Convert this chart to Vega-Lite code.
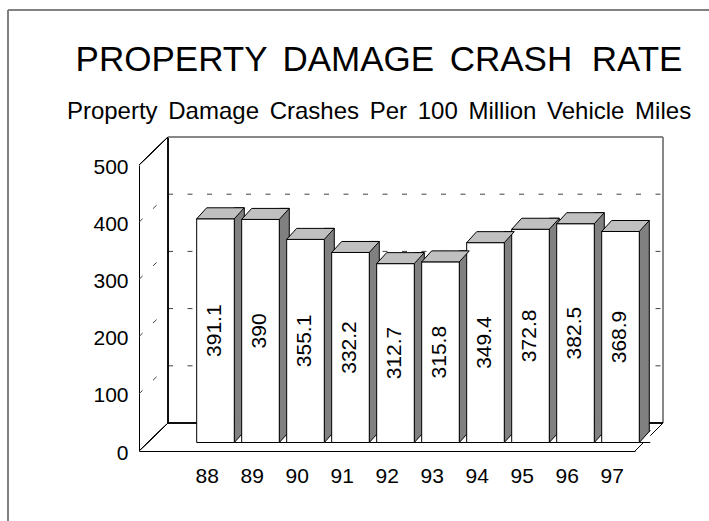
{
  "$schema": "https://vega.github.io/schema/vega-lite/v6.json",
  "width": 496,
  "height": 286,
  "autosize": "none",
  "padding": {"left": 139, "top": 165, "right": 74, "bottom": 70},
  "background": "white",
  "title": {
    "text": "PROPERTY \u2006DAMAGE \u2006CRASH \u00a0RATE",
    "subtitle": "Property \u2006Damage \u2006Crashes \u2006Per \u2006100 \u2006Million \u2006Vehicle \u2006Miles",
    "font": "Liberation Sans",
    "subtitleFont": "Liberation Sans",
    "fontSize": 35,
    "subtitleFontSize": 24,
    "fontWeight": "normal",
    "subtitleFontWeight": "normal",
    "color": "black",
    "subtitleColor": "black",
    "anchor": "middle",
    "frame": "group",
    "offset": -115,
    "subtitlePadding": 22,
    "dx": -8
  },
  "datasets": {
    "rates": [
      {"year": 88, "value": 391.1},
      {"year": 89, "value": 390},
      {"year": 90, "value": 355.1},
      {"year": 91, "value": 332.2},
      {"year": 92, "value": 312.7},
      {"year": 93, "value": 315.8},
      {"year": 94, "value": 349.4},
      {"year": 95, "value": 372.8},
      {"year": 96, "value": 382.5},
      {"year": 97, "value": 368.9}
    ],
    "grid": [{"v": 100}, {"v": 200}, {"v": 300}, {"v": 400}]
  },
  "layer": [
    {
      "layer": [
        {
          "data": {"name": "grid"},
          "mark": {"type": "rule", "color": "#404040", "strokeWidth": 1, "strokeDash": [5, 14.5], "xOffset": 29, "x2Offset": 28, "yOffset": -28},
          "encoding": {
            "x": {"datum": 86.496, "type": "quantitative", "title": null, "scale": {"domain": [86.496, 97.518], "nice": false, "zero": false, "padding": 0}},
            "x2": {"datum": 97.518},
            "y": {"field": "v", "type": "quantitative", "title": null, "scale": {"domain": [0, 500], "nice": false, "zero": false, "padding": 0}}
          }
        },
        {
          "data": {"name": "grid"},
          "mark": {"type": "rule", "color": "#404040", "strokeWidth": 1, "strokeDash": [5, 14.5], "x2Offset": 29, "y2Offset": -28},
          "encoding": {
            "x": {"datum": 86.496, "type": "quantitative", "title": null, "scale": {"domain": [86.496, 97.518], "nice": false, "zero": false, "padding": 0}},
            "x2": {"datum": 86.496},
            "y": {"field": "v", "type": "quantitative", "title": null, "scale": {"domain": [0, 500], "nice": false, "zero": false, "padding": 0}},
            "y2": {"field": "v"}
          }
        },
        {
          "data": {"name": "grid"},
          "mark": {"type": "rule", "color": "black", "strokeWidth": 1, "xOffset": 29, "yOffset": -28, "y2Offset": -28},
          "encoding": {
            "x": {"datum": 86.496, "type": "quantitative", "title": null, "scale": {"domain": [86.496, 97.518], "nice": false, "zero": false, "padding": 0}},
            "y": {"datum": 0, "type": "quantitative", "title": null, "scale": {"domain": [0, 500], "nice": false, "zero": false, "padding": 0}},
            "y2": {"datum": 500}
          }
        },
        {
          "data": {"name": "grid"},
          "mark": {"type": "rule", "color": "#808080", "strokeWidth": 1, "xOffset": 28, "yOffset": -28, "y2Offset": -28},
          "encoding": {
            "x": {"datum": 97.518, "type": "quantitative", "title": null, "scale": {"domain": [86.496, 97.518], "nice": false, "zero": false, "padding": 0}},
            "y": {"datum": 0, "type": "quantitative", "title": null, "scale": {"domain": [0, 500], "nice": false, "zero": false, "padding": 0}},
            "y2": {"datum": 500}
          }
        },
        {
          "data": {"name": "grid"},
          "mark": {"type": "rule", "color": "#808080", "strokeWidth": 1, "xOffset": 29, "x2Offset": 28, "yOffset": -28},
          "encoding": {
            "x": {"datum": 86.496, "type": "quantitative", "title": null, "scale": {"domain": [86.496, 97.518], "nice": false, "zero": false, "padding": 0}},
            "x2": {"datum": 97.518},
            "y": {"datum": 500, "type": "quantitative", "title": null, "scale": {"domain": [0, 500], "nice": false, "zero": false, "padding": 0}}
          }
        },
        {
          "data": {"name": "grid"},
          "mark": {"type": "rule", "color": "black", "strokeWidth": 1, "xOffset": 29, "x2Offset": 28, "yOffset": -28},
          "encoding": {
            "x": {"datum": 86.496, "type": "quantitative", "title": null, "scale": {"domain": [86.496, 97.518], "nice": false, "zero": false, "padding": 0}},
            "x2": {"datum": 97.518},
            "y": {"datum": 0, "type": "quantitative", "title": null, "scale": {"domain": [0, 500], "nice": false, "zero": false, "padding": 0}}
          }
        },
        {
          "data": {"name": "grid"},
          "mark": {"type": "rule", "color": "black", "strokeWidth": 1, "x2Offset": 29, "y2Offset": -28},
          "encoding": {
            "x": {"datum": 86.496, "type": "quantitative", "title": null, "scale": {"domain": [86.496, 97.518], "nice": false, "zero": false, "padding": 0}},
            "x2": {"datum": 86.496},
            "y": {"datum": 0, "type": "quantitative", "title": null, "scale": {"domain": [0, 500], "nice": false, "zero": false, "padding": 0}},
            "y2": {"datum": 0}
          }
        },
        {
          "data": {"name": "grid"},
          "mark": {"type": "rule", "color": "black", "strokeWidth": 1, "x2Offset": 29, "y2Offset": -28},
          "encoding": {
            "x": {"datum": 86.496, "type": "quantitative", "title": null, "scale": {"domain": [86.496, 97.518], "nice": false, "zero": false, "padding": 0}},
            "x2": {"datum": 86.496},
            "y": {"datum": 500, "type": "quantitative", "title": null, "scale": {"domain": [0, 500], "nice": false, "zero": false, "padding": 0}},
            "y2": {"datum": 500}
          }
        },
        {
          "data": {"name": "grid"},
          "mark": {"type": "rule", "color": "black", "strokeWidth": 1, "x2Offset": 28, "y2Offset": -28},
          "encoding": {
            "x": {"datum": 97.518, "type": "quantitative", "title": null, "scale": {"domain": [86.496, 97.518], "nice": false, "zero": false, "padding": 0}},
            "x2": {"datum": 97.518},
            "y": {"datum": 0, "type": "quantitative", "title": null, "scale": {"domain": [0, 500], "nice": false, "zero": false, "padding": 0}},
            "y2": {"datum": 0}
          }
        },
        {
          "data": {"name": "grid"},
          "mark": {"type": "rule", "color": "#808080", "strokeWidth": 1.5},
          "encoding": {
            "x": {"datum": 83.585, "type": "quantitative", "title": null, "scale": {"domain": [86.496, 97.518], "nice": false, "zero": false, "padding": 0}},
            "y": {"datum": -140, "type": "quantitative", "title": null, "scale": {"domain": [0, 500], "nice": false, "zero": false, "padding": 0}},
            "y2": {"datum": 771}
          }
        },
        {
          "data": {"name": "grid"},
          "mark": {"type": "rule", "color": "#808080", "strokeWidth": 1.5},
          "encoding": {
            "x": {"datum": 83.585, "type": "quantitative", "title": null, "scale": {"domain": [86.496, 97.518], "nice": false, "zero": false, "padding": 0}},
            "x2": {"datum": 99.5},
            "y": {"datum": 771, "type": "quantitative", "title": null, "scale": {"domain": [0, 500], "nice": false, "zero": false, "padding": 0}}
          }
        },
        {
          "data": {"name": "rates"},
          "mark": {"type": "bar", "orient": "vertical", "width": 10, "xOffset": 32.6, "yOffset": -19.5, "y2Offset": -8.5, "fill": "#808080", "stroke": "black", "strokeWidth": 1},
          "encoding": {
            "x": {"field": "year", "type": "quantitative", "title": null, "scale": {"domain": [86.496, 97.518], "nice": false, "zero": false, "padding": 0}},
            "y": {"field": "value", "type": "quantitative", "title": null, "scale": {"domain": [0, 500], "nice": false, "zero": false, "padding": 0}},
            "y2": {"datum": 0}
          }
        },
        {
          "data": {"name": "rates"},
          "mark": {"type": "point", "shape": "M 0.9091 1 L -0.9091 1 L 0.9091 -1", "size": 146.41, "filled": true, "fill": "white", "stroke": "black", "strokeWidth": 1, "opacity": 1, "xOffset": 33.1, "yOffset": -14.55},
          "encoding": {
            "x": {"field": "year", "type": "quantitative", "title": null, "scale": {"domain": [86.496, 97.518], "nice": false, "zero": false, "padding": 0}},
            "y": {"datum": 0, "type": "quantitative", "title": null, "scale": {"domain": [0, 500], "nice": false, "zero": false, "padding": 0}}
          }
        },
        {
          "data": {"name": "rates"},
          "mark": {"type": "bar", "orient": "vertical", "width": 37.6, "xOffset": 8.8, "yOffset": -8.5, "y2Offset": -8.5, "fill": "white", "stroke": "black", "strokeWidth": 1},
          "encoding": {
            "x": {"field": "year", "type": "quantitative", "title": null, "scale": {"domain": [86.496, 97.518], "nice": false, "zero": false, "padding": 0},
              "axis": {"values": [88, 89, 90, 91, 92, 93, 94, 95, 96, 97], "format": "d", "title": null, "labelPadding": 14, "labelFlush": false, "labelOverlap": false}},
            "y": {"field": "value", "type": "quantitative", "title": null, "scale": {"domain": [0, 500], "nice": false, "zero": false, "padding": 0},
              "axis": {"values": [0, 100, 200, 300, 400, 500], "title": null, "labelPadding": 11, "labelOffset": 2, "labelFlush": false, "labelOverlap": false}},
            "y2": {"datum": 0}
          }
        },
        {
          "data": {"name": "rates"},
          "mark": {"type": "point", "shape": "M -1 0.2311 L 0.5798 0.2311 L 1 -0.2311 L -0.5798 -0.2311 Z", "size": 2265.76, "filled": true, "fill": "#c0c0c0", "stroke": "black", "strokeWidth": 1, "opacity": 1, "xOffset": 13.8, "yOffset": -14},
          "encoding": {
            "x": {"field": "year", "type": "quantitative", "title": null, "scale": {"domain": [86.496, 97.518], "nice": false, "zero": false, "padding": 0}},
            "y": {"field": "value", "type": "quantitative", "title": null, "scale": {"domain": [0, 500], "nice": false, "zero": false, "padding": 0}}
          }
        }
      ]
    },
    {
      "data": {"name": "rates"},
      "mark": {"type": "text", "angle": 270, "align": "center", "baseline": "middle", "fontSize": 21, "font": "Liberation Sans", "color": "black", "xOffset": 8.8, "yOffset": -8.5},
      "encoding": {
        "x": {"field": "year", "type": "quantitative", "title": null, "scale": {"domain": [86.496, 97.518], "nice": false, "zero": false, "padding": 0}},
        "y": {"field": "value", "type": "quantitative", "scale": {"domain": [0, 1000], "nice": false, "zero": false, "padding": 0}, "axis": null},
        "text": {"field": "value", "type": "nominal"}
      }
    }
  ],
  "resolve": {"scale": {"y": "independent"}},
  "config": {
    "font": "Liberation Sans",
    "view": {"stroke": null},
    "axis": {
      "ticks": false,
      "grid": false,
      "domainColor": "black",
      "domainWidth": 1,
      "labelColor": "black",
      "labelFont": "Liberation Sans",
      "labelFontSize": 21
    }
  }
}
